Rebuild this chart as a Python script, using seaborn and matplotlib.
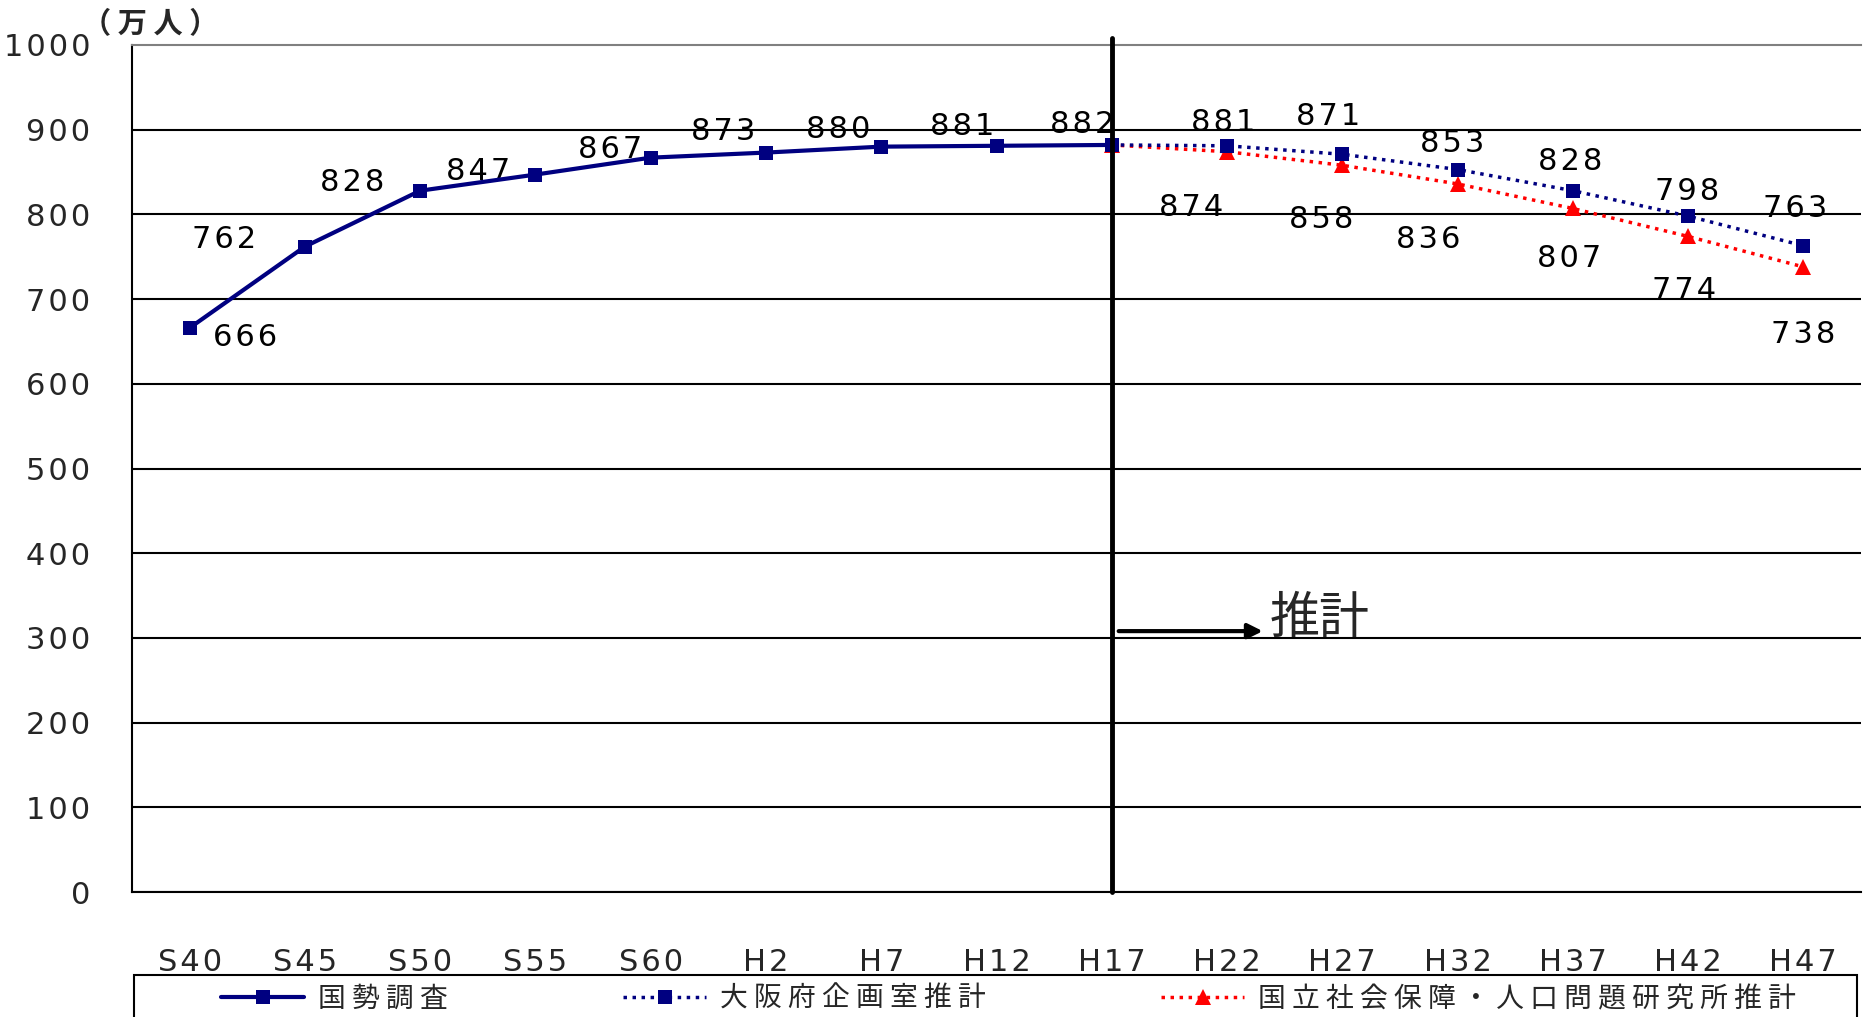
import matplotlib
matplotlib.use('Agg')
import matplotlib.pyplot as plt
import seaborn as sns
import numpy as np
import pandas as pd
from matplotlib.patches import Rectangle
from matplotlib.ticker import FuncFormatter

# data
categories = ['S40', 'S45', 'S50', 'S55', 'S60', 'H2', 'H7', 'H12', 'H17',
              'H22', 'H27', 'H32', 'H37', 'H42', 'H47']
census_periods = ['S40', 'S45', 'S50', 'S55', 'S60', 'H2', 'H7', 'H12', 'H17']
census = [666, 762, 828, 847, 867, 873, 880, 881, 882]
proj_periods = ['H17', 'H22', 'H27', 'H32', 'H37', 'H42', 'H47']
osaka = [882, 881, 871, 853, 828, 798, 763]
ipss = [882, 874, 858, 836, 807, 774, 738]
series_names = ['国 勢 調 査', '大 阪 府 企 画 室 推 計',
                '国 立 社 会 保 障 ・ 人 口 問 題 研 究 所 推 計']

# label offsets in points
census_off = [(40, -7), (-58, 5), (-49, 6), (-41, 2), (-29, 6),
              (-31, 15), (-31, 12), (-25, 14), (-21, 15)]
osaka_off = [None, (-3, 17), (-10, 27), (-4, 19), (-2, 21), (-1, 18), (-6, 27)]
ipss_off = [None, (-26, -40), (-15, -39), (-21, -40), (-3, -36), (-3, -39), (0, -49)]

sns.set_style('white')
plt.rcParams['font.family'] = ['DejaVu Sans', 'Noto Sans CJK JP']
cjk = ['Noto Sans CJK JP', 'DejaVu Sans']


def spaced(s):
    # wide letter spacing like the original
    return '\u200a'.join(str(s))


W, H = 1864, 1017
fig = plt.figure(figsize=(W / 100, H / 100), dpi=100)
ax = fig.add_axes([132 / W, 1 - 892 / H, 1729 / W, 847 / H])

pos = {c: i for i, c in enumerate(categories)}
df_c = pd.DataFrame({'x': [pos[p] for p in census_periods], 'y': census})
df_o = pd.DataFrame({'x': [pos[p] for p in proj_periods], 'y': osaka})
df_i = pd.DataFrame({'x': [pos[p] for p in proj_periods], 'y': ipss})

navy = '#000080'
sns.lineplot(data=df_i, x='x', y='y', ax=ax, color='red', lw=2.5,
             linestyle=(0, (1, 1.6)), marker='^', markersize=12,
             markeredgewidth=0, label=series_names[2], zorder=4)
sns.lineplot(data=df_o, x='x', y='y', ax=ax, color=navy, lw=2.5,
             linestyle=(0, (1, 1.6)), marker='s', markersize=9.5,
             markeredgewidth=0, label=series_names[1], zorder=5)
sns.lineplot(data=df_c, x='x', y='y', ax=ax, color=navy, lw=3,
             marker='s', markersize=9.5, markeredgewidth=0,
             label=series_names[0], zorder=6)

lab_kw = dict(textcoords='offset points', ha='center', va='center',
              fontsize=22, color='black')
for x, y, off in zip(df_c['x'], census, census_off):
    ax.annotate(spaced(y), (x, y), xytext=off, **lab_kw)
for x, y, off in zip(df_o['x'], osaka, osaka_off):
    if off:
        ax.annotate(spaced(y), (x, y), xytext=off, **lab_kw)
for x, y, off in zip(df_i['x'], ipss, ipss_off):
    if off:
        ax.annotate(spaced(y), (x, y), xytext=off, **lab_kw)

# axes
ax.set_xlim(-0.5, len(categories) - 0.5)
ax.set_ylim(0, 1000)
ax.set_yticks(np.arange(0, 1001, 100))
ax.yaxis.set_major_formatter(FuncFormatter(lambda v, p: spaced(int(v))))
ax.set_xticks(np.arange(len(categories)))
ax.set_xticklabels([spaced(c) for c in categories])
ax.set_xticks(np.arange(0.5, len(categories) - 1, 1), minor=True)
ax.tick_params(axis='x', which='major', length=0, pad=40, labelsize=22)
ax.tick_params(axis='x', which='minor', length=9, width=1.2, direction='out',
               color='black')
ax.tick_params(axis='y', length=9, width=1.5, direction='in', labelsize=22,
               pad=30)
ax.set_xlabel('')
ax.set_ylabel('')
ax.yaxis.grid(True, color='black', lw=1.5)
ax.get_ygridlines()[-1].set_visible(False)
ax.set_axisbelow(True)
for s in ['left', 'bottom']:
    ax.spines[s].set_color('black')
    ax.spines[s].set_linewidth(1.5)
ax.spines['top'].set_color('#808080')
ax.spines['top'].set_linewidth(1.5)
ax.spines['right'].set_visible(False)

# projection boundary
ax.axvline(pos['H17'], ymin=0, ymax=1.008, color='black', lw=3.5,
           clip_on=False, zorder=7)
ax.annotate('', xy=(9.31, 308), xytext=(8.06, 308),
            arrowprops=dict(arrowstyle='-|>', color='black', lw=3,
                            mutation_scale=22, shrinkA=0, shrinkB=0))
ax.text(9.37, 322, '推計', fontsize=36, family=cjk, ha='left', va='center')

fig.text(82 / W, 1 - 24 / H, '（ 万 人 ）', fontsize=21, family=cjk,
         ha='left', va='center', fontweight='bold')

# legend
ax.get_legend().remove()
handles, labels = ax.get_legend_handles_labels()
order = [2, 1, 0]
leg = fig.legend([handles[i] for i in order], [labels[i] for i in order],
                 loc='center left', bbox_to_anchor=(221 / W, 1 - 999 / H),
                 ncol=3, frameon=False, borderpad=0, borderaxespad=0,
                 handlelength=3.0, handletextpad=0.5, columnspacing=6.3,
                 prop={'family': cjk, 'size': 20})
fig.patches.append(Rectangle((134 / W, -0.02), 1723 / W, (1017 - 975) / H + 0.02,
                             transform=fig.transFigure, fill=False,
                             ec='black', lw=1.5))

fig.savefig('out.png', dpi=100)
